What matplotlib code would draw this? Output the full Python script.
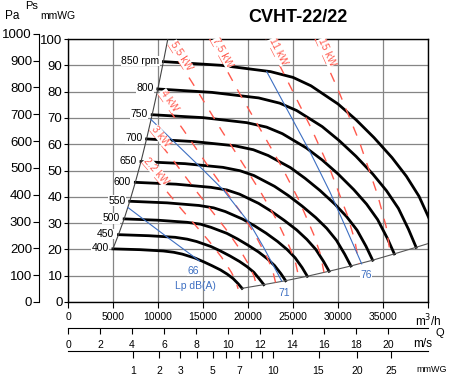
import numpy as np
import matplotlib
matplotlib.use("Agg")
import matplotlib.pyplot as plt

plt.rcParams["font.family"] = ["Liberation Sans", "DejaVu Sans"]

# fan curves, Q in m3/h and static pressure in mmWG
rpm_labels = ["400", "450", "500", "550", "600", "650", "700", "750", "800", "850 rpm"]
q_400 = [4990, 8000, 10590, 11760, 12710, 14120, 15060, 16000, 16940, 17690, 18350, 18920, 19340]
p_400 = [20.2, 19.9, 19.4, 18.9, 18.2, 16.7, 15.3, 13.8, 12.2, 10.6, 8.9, 6.9, 5.2]
q_450 = [5610, 9000, 11910, 13240, 14290, 15880, 16940, 18000, 19060, 19910, 20650, 21280, 21760]
p_450 = [25.6, 25.2, 24.6, 23.9, 23.0, 21.1, 19.4, 17.5, 15.4, 13.4, 11.3, 8.7, 6.6]
q_500 = [6240, 10000, 13240, 14710, 15880, 17650, 18820, 20000, 21180, 22120, 22940, 23650, 24180]
p_500 = [31.6, 31.1, 30.3, 29.6, 28.4, 26.1, 24.0, 21.6, 19.0, 16.5, 13.9, 10.8, 8.1]
q_550 = [6860, 11000, 14560, 16180, 17470, 19410, 20710, 22000, 23290, 24330, 25240, 26010, 26590]
p_550 = [38.3, 37.7, 36.7, 35.8, 34.4, 31.5, 29.0, 26.2, 23.0, 20.0, 16.8, 13.1, 9.8]
q_600 = [7480, 12000, 15880, 17650, 19060, 21180, 22590, 24000, 25410, 26540, 27530, 28380, 29010]
p_600 = [45.5, 44.8, 43.6, 42.6, 41.0, 37.5, 34.5, 31.1, 27.4, 23.8, 20.0, 15.5, 11.7]
q_650 = [8110, 13000, 17210, 19120, 20650, 22940, 24470, 26000, 27530, 28750, 29820, 30740, 31430]
p_650 = [53.4, 52.6, 51.2, 49.9, 48.1, 44.0, 40.5, 36.5, 32.1, 28.0, 23.5, 18.2, 13.7]
q_700 = [8730, 14000, 18530, 20590, 22240, 24710, 26350, 28000, 29650, 30970, 32120, 33110, 33850]
p_700 = [62.0, 61.0, 59.4, 57.9, 55.7, 51.1, 47.0, 42.4, 37.2, 32.4, 27.3, 21.2, 15.9]
q_750 = [9350, 15000, 19850, 22060, 23820, 26470, 28240, 30000, 31760, 33180, 34410, 35470, 36260]
p_750 = [71.2, 70.1, 68.2, 66.5, 64.0, 58.6, 54.0, 48.7, 42.7, 37.2, 31.3, 24.3, 18.3]
q_800 = [9980, 16000, 21180, 23530, 25410, 28240, 30120, 32000, 33880, 35390, 36710, 37840, 38680]
p_800 = [81.0, 79.7, 77.6, 75.6, 72.8, 66.7, 61.4, 55.4, 48.6, 42.3, 35.6, 27.6, 20.8]
q_850 = [10600, 17000, 22500, 25000, 27000, 30000, 32000, 34000, 36000, 37600, 39000, 40200, 41100]
p_850 = [91.4, 90.0, 87.6, 85.4, 82.2, 75.3, 69.3, 62.5, 54.9, 47.8, 40.2, 31.2, 23.5]

# end of the left (stall) line at the top, end of the right line at the frame
left_top = (11090, 100.0)
right_edge = (40000, 22.2)

# absorbed power lines (kW)
kw_labels = ["2.2 kW", "3 kW", "4 kW", "5.5 kW", "7.5 kW", "11 kW", "15 kW"]
kw22_q = [8190, 10500, 12600, 14450, 15800, 17070, 18150, 18640, 18900]
kw22_p = [53.1, 44.0, 35.3, 28.0, 22.6, 17.0, 11.3, 8.0, 5.0]
kw3_q = [9080, 11640, 13970, 16020, 17520, 18930, 20130, 20670, 20960]
kw3_p = [65.3, 54.1, 43.4, 34.4, 27.8, 20.9, 13.9, 9.8, 6.1]
kw4_q = [9990, 12810, 15380, 17630, 19280, 20830, 22150, 22750, 23060]
kw4_p = [79.1, 65.5, 52.6, 41.7, 33.7, 25.3, 16.8, 11.9, 7.4]
kw55_q = [11120, 14250, 17100, 19610, 21440, 23170, 24630, 25300, 25650]
kw55_p = [97.8, 81.0, 65.0, 51.6, 41.6, 31.3, 20.8, 14.7, 9.2]
kw75_q = [15700, 18960, 21750, 23780, 25690, 27310, 28050, 28440]
kw75_p = [100.3, 79.9, 63.4, 51.2, 38.5, 25.6, 18.1, 11.3]
kw11_q = [21550, 24710, 27020, 29190, 31040, 31870, 32320]
kw11_p = [103.2, 81.9, 66.1, 49.7, 33.0, 23.4, 14.6]
kw15_q = [27390, 29950, 32360, 34410, 35340, 35830]
kw15_p = [100.6, 81.2, 61.1, 40.6, 28.8, 18.0]

# sound pressure lines Lp dB(A)
lp_labels = ["66", "71", "76"]
lp66_q = [6670, 10970, 14610]
lp66_p = [35.9, 24.8, 15.6]
lp71_q = [9190, 14670, 17260, 20220, 21700, 23740]
lp71_p = [69.5, 51.4, 42.6, 29.7, 21.0, 8.0]
lp76_q = [22080, 24440, 26890, 29110, 30890, 32630]
lp76_p = [87.6, 72.6, 57.1, 41.8, 28.1, 14.5]

# axes
q_ticks = [0, 5000, 10000, 15000, 20000, 25000, 30000, 35000, 40000]
q_ticklabels = ["0", "5000", "10000", "15000", "20000", "25000", "30000", "35000", "m$^3$/h"]
ps_ticks = [0, 10, 20, 30, 40, 50, 60, 70, 80, 90, 100]
pa_ticks = [0, 100, 200, 300, 400, 500, 600, 700, 800, 900, 1000]
ms_ticks = [0, 2, 4, 6, 8, 10, 12, 14, 16, 18, 20]
pd_ticks = [1, 2, 3, 4, 5, 6, 7, 8, 9, 10, 15, 20, 25]
pd_ticklabels = ["1", "2", "3", "", "5", "", "7", "", "", "10", "15", "20", "25"]

outlet_area = 0.4938  # m2
rho = 1.2
g = 9.80665

BLACK = "black"
GRID = "#858585"
RED = "#ff5a4e"
BLUE = "#3d6fc2"

W, H = 450, 376


def fx(px):
    return px / W


def fy(py):
    return 1 - py / H


fig = plt.figure(figsize=(4.5, 3.76), dpi=100)
ax = fig.add_axes([fx(68), fy(302), fx(428) - fx(68), fy(39) - fy(302)])
ax.set_xlim(0, 40000)
ax.set_ylim(0, 100)
ax.set_xticks(q_ticks)
ax.set_xticklabels(q_ticklabels)
ax.get_xticklabels()[-1].set_fontsize(8.5)
ax.set_yticks(ps_ticks)
ax.grid(True, color=GRID, lw=0.9)
ax.set_axisbelow(True)
ax.tick_params(axis="x", direction="out", length=4, pad=3.5, labelsize=7.5)
ax.get_xticklabels()[-1].set_fontsize(8.5)
ax.tick_params(axis="y", direction="out", length=3, pad=1, labelsize=9.5)
for s in ax.spines.values():
    s.set_linewidth(1.0)

# fan curves
curves = [(q_400, p_400), (q_450, p_450), (q_500, p_500), (q_550, p_550), (q_600, p_600),
          (q_650, p_650), (q_700, p_700), (q_750, p_750), (q_800, p_800), (q_850, p_850)]
for (q, p), lab in zip(curves, rpm_labels):
    ax.plot(q, p, color=BLACK, lw=2.0, solid_joinstyle="round", zorder=3)
    ax.annotate(lab, xy=(q[0], p[0]), xytext=(-3, 0.5), textcoords="offset points",
                ha="right", va="center", fontsize=7.5, zorder=6,
                bbox=dict(fc="white", ec="none", pad=0.2))

# limit lines
left_q = [q[0] for q, p in curves] + [left_top[0]]
left_p = [p[0] for q, p in curves] + [left_top[1]]
ax.plot(left_q, left_p, color="#444444", lw=0.8, zorder=3)
right_q = [q[-1] for q, p in curves[:-1]] + [right_edge[0]]
right_p = [p[-1] for q, p in curves[:-1]] + [right_edge[1]]
ax.plot(right_q, right_p, color="#555555", lw=0.8, zorder=3)

# power lines
kw_lines = [(kw22_q, kw22_p), (kw3_q, kw3_p), (kw4_q, kw4_p), (kw55_q, kw55_p),
            (kw75_q, kw75_p), (kw11_q, kw11_p), (kw15_q, kw15_p)]
for (q, p), lab in zip(kw_lines, kw_labels):
    ax.plot(q, p, color=RED, lw=1.0, ls=(0, (7, 7)), zorder=4)
    a = ax.transData.transform((q[0], p[0]))
    b = ax.transData.transform((q[1], p[1]))
    ang = np.degrees(np.arctan2(b[1] - a[1], b[0] - a[0]))
    p0 = min(p[0], 99.3)
    q0 = np.interp(p0, p[::-1], q[::-1])
    ax.text(q0, p0, lab, color=RED, fontsize=7.5, rotation=ang, rotation_mode="anchor",
            ha="left", va="bottom", zorder=6,
            bbox=dict(fc="white", ec="none", pad=0.1))

# noise lines
lp_lines = [(lp66_q, lp66_p), (lp71_q, lp71_p), (lp76_q, lp76_p)]
lp_offsets = [(-4.7, -7.2), (1.7, -8.6), (3.1, -7.9)]
for (q, p), lab, off in zip(lp_lines, lp_labels, lp_offsets):
    ax.plot(q, p, color=BLUE, lw=0.8, zorder=5)
    ax.annotate(lab, xy=(q[-1], p[-1]), xytext=off, textcoords="offset points",
                ha="center", va="center", fontsize=7.5, color=BLUE, zorder=6,
                bbox=dict(fc="white", ec="none", pad=0.1))
ax.annotate("Lp dB(A)", xy=(lp66_q[-1], lp66_p[-1]), xytext=(-3.2, -18),
            textcoords="offset points", ha="center", va="center", fontsize=7.5,
            color=BLUE, zorder=6)

# Pa scale
pa_h = (fy(39) - fy(302)) * (1000 / g) / 100
axp = fig.add_axes([fx(39), fy(302), 0.0001, pa_h])
axp.set_ylim(0, 1000)
axp.set_yticks(pa_ticks)
axp.xaxis.set_visible(False)
for s in ["top", "right", "bottom"]:
    axp.spines[s].set_visible(False)
axp.patch.set_visible(False)
axp.tick_params(axis="y", direction="out", length=4, pad=1, labelsize=9.5)

# velocity scale
v_max = 40000 / 3600 / outlet_area
axv = fig.add_axes([fx(68), fy(328), fx(428) - fx(68), 0.0001])
axv.set_xlim(0, v_max)
axv.set_xticks(ms_ticks)
axv.yaxis.set_visible(False)
for s in ["top", "right", "left"]:
    axv.spines[s].set_visible(False)
axv.patch.set_visible(False)
axv.tick_params(axis="x", direction="out", length=4, pad=5, labelsize=7.5)

# dynamic pressure scale
axd = fig.add_axes([fx(68), fy(351), fx(428) - fx(68), 0.0001])
axd.set_xlim(0, v_max)
axd.set_xticks(np.sqrt(2 * g * np.array(pd_ticks) / rho))
axd.set_xticklabels(pd_ticklabels)
axd.yaxis.set_visible(False)
for s in ["top", "right", "left"]:
    axd.spines[s].set_visible(False)
axd.patch.set_visible(False)
axd.tick_params(axis="x", direction="out", length=5, pad=6, labelsize=7.5)

# texts
fig.text(fx(298), fy(18), "CVHT-22/22", ha="center", va="center", fontsize=13, fontweight="bold")
fig.text(fx(12), fy(16), "Pa", ha="center", va="center", fontsize=8.5)
fig.text(fx(32), fy(6), "Ps", ha="center", va="center", fontsize=8)
fig.text(fx(58), fy(16), "mmWG", ha="center", va="center", fontsize=7.5)
fig.text(fx(440), fy(333), "Q", ha="center", va="center", fontsize=8)
fig.text(fx(423), fy(344), "m/s", ha="center", va="center", fontsize=8.5)
fig.text(fx(432), fy(369), "mmWG", ha="center", va="center", fontsize=6.5)

fig.savefig("out.png", dpi=100)
